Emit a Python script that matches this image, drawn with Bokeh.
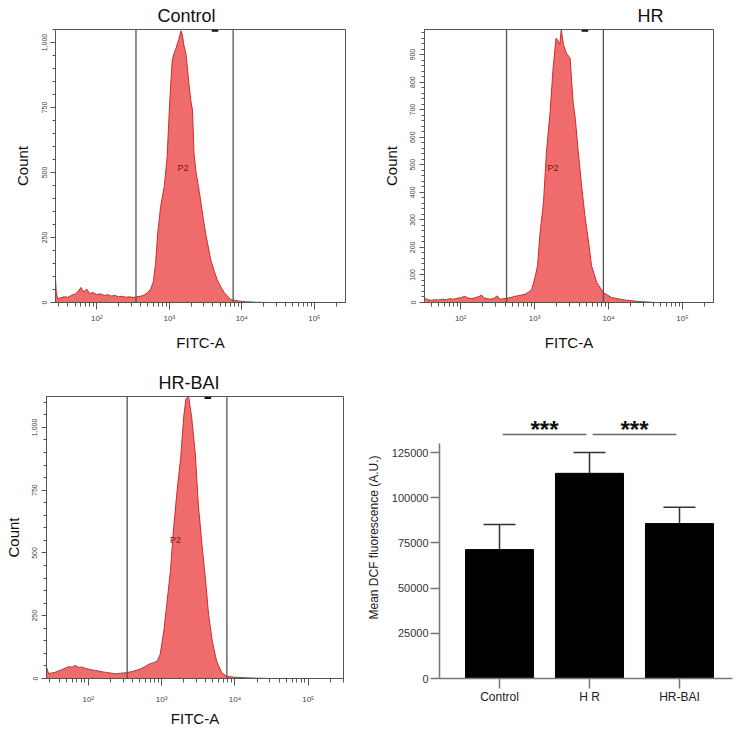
from bokeh.plotting import figure
from bokeh.models import (Range1d, FixedTicker, CustomJSTickFormatter, NumeralTickFormatter,
                          BasicTickFormatter, Span)
from bokeh.layouts import column, row
from bokeh.core.properties import value
from bokeh.embed import file_html
from bokeh.resources import INLINE

FONT = "Liberation Sans"

# ---------------- histogram data (log10 of FITC-A, count) ----------------
control_log = [1.43, 1.44, 1.46, 1.50, 1.55, 1.60, 1.65, 1.70, 1.75, 1.78, 1.82, 1.86, 1.90, 1.95,
               2.00, 2.05, 2.10, 2.15, 2.20, 2.25, 2.30, 2.35, 2.40, 2.45, 2.50, 2.55, 2.60, 2.65,
               2.70, 2.74, 2.78, 2.81, 2.84, 2.88, 2.93, 2.97, 3.00, 3.02, 3.04, 3.07, 3.09, 3.11,
               3.13, 3.16, 3.18, 3.20, 3.23, 3.27, 3.30, 3.32, 3.34, 3.37, 3.40, 3.43, 3.47, 3.50,
               3.54, 3.57, 3.62, 3.66, 3.71, 3.76, 3.81, 3.85, 3.95, 4.05, 4.20, 4.40]
control_count = [95, 40, 15, 18, 22, 20, 28, 32, 45, 58, 40, 52, 35, 38,
                 30, 34, 27, 30, 25, 27, 22, 24, 20, 22, 19, 22, 24, 28,
                 38, 50, 80, 150, 267, 369, 446, 561, 740, 842, 931, 963, 975, 995,
                 1010, 1045, 1030, 990, 957, 842, 770, 740, 574, 497, 450, 395, 320, 267,
                 210, 165, 120, 88, 60, 37, 22, 11, 6, 3, 1, 0]

hr_log = [1.52, 1.56, 1.60, 1.65, 1.70, 1.75, 1.80, 1.85, 1.90, 1.95, 2.00, 2.06, 2.10, 2.15,
          2.20, 2.25, 2.28, 2.32, 2.36, 2.40, 2.45, 2.49, 2.53, 2.58, 2.62, 2.67, 2.73, 2.80,
          2.87, 2.92, 2.96, 3.00, 3.04, 3.07, 3.12, 3.16, 3.21, 3.25, 3.29, 3.32, 3.34, 3.36,
          3.39, 3.43, 3.48, 3.52, 3.55, 3.59, 3.64, 3.68, 3.73, 3.77, 3.84, 3.93, 4.04, 4.22,
          4.40, 4.63]
hr_count = [15, 10, 8, 10, 9, 12, 10, 14, 12, 15, 18, 22, 16, 14,
            18, 22, 27, 16, 14, 12, 15, 24, 12, 14, 15, 18, 22, 26,
            30, 38, 48, 85, 134, 243, 365, 547, 693, 851, 960, 948, 936, 990,
            936, 905, 887, 729, 668, 547, 413, 316, 219, 134, 73, 36, 18, 9,
            4, 0]

hrbai_log = [1.41, 1.43, 1.46, 1.50, 1.55, 1.59, 1.64, 1.69, 1.73, 1.78, 1.82, 1.87, 1.91, 1.96,
             2.00, 2.05, 2.10, 2.14, 2.20, 2.25, 2.30, 2.37, 2.44, 2.52, 2.60, 2.69, 2.76, 2.82,
             2.88, 2.94, 2.98, 3.03, 3.07, 3.12, 3.16, 3.21, 3.26, 3.30, 3.33, 3.35, 3.37, 3.41,
             3.46, 3.50, 3.55, 3.60, 3.64, 3.69, 3.75, 3.82, 3.89, 4.00, 4.15, 4.32, 4.50]
hrbai_count = [98, 45, 19, 22, 25, 30, 35, 42, 47, 45, 52, 44, 46, 40,
               38, 34, 32, 30, 26, 24, 22, 19, 21, 23, 28, 36, 45, 56,
               62, 69, 96, 189, 295, 428, 587, 746, 879, 1039, 1112, 1120, 1118, 1039,
               892, 693, 534, 388, 255, 149, 69, 23, 8, 5, 3, 1, 0]

# gates (log10), gate-label marker (log10), P2 label position (log10, count)
control_gate = [2.54, 3.88]
hr_gate = [2.62, 3.93]
hrbai_gate = [2.53, 3.89]
control_mark = 3.63
hr_mark = 3.68
hrbai_mark = 3.63
control_p2 = (3.19, 517)
hr_p2 = (3.25, 490)
hrbai_p2 = (3.19, 550)

x_decades = [2, 3, 4, 5]

# ---------------- bar chart data ----------------
groups = ["Control", "H R", "HR-BAI"]
means = [71300, 113500, 85700]
errors = [13900, 11500, 9100]
sig_pairs = [(1, 2), (2, 3)]
sig_text = ["***", "***"]
bar_yticks = [0, 25000, 50000, 75000, 100000, 125000]

FILL = "#F06B6B"
EDGE = "#D22A2C"
GRAY = "#555555"

sup_js = """
const e = Math.round(Math.log10(tick));
const sup = {1:'\u00b9', 2:'\u00b2', 3:'\u00b3', 4:'\u2074', 5:'\u2075', 6:'\u2076'};
return '10' + sup[e];
"""


def flow_panel(title, title_offset, logs, counts, xr, ymax, ymajor, ystep_minor,
               gates, mark, p2, width, height, bl, br, bt, bb, title_standoff, xlab_standoff):
    p = figure(width=width, height=height, x_axis_type="log",
               x_range=Range1d(10 ** xr[0], 10 ** xr[1]), y_range=Range1d(0, ymax),
               output_backend="svg", toolbar_location=None,
               min_border_left=bl, min_border_right=br, min_border_top=bt, min_border_bottom=bb,
               background_fill_color="white", border_fill_color="white")
    p.title.text = title
    p.title.align = "left"
    p.title.offset = title_offset
    p.title.standoff = title_standoff
    p.title.text_font = FONT
    p.title.text_font_size = "18px"
    p.title.text_font_style = "normal"
    p.title.text_color = "#111111"
    p.outline_line_color = GRAY
    p.outline_line_width = 1
    p.grid.visible = False

    xs = [10 ** v for v in logs]
    p.varea(x=xs, y1=[0] * len(xs), y2=counts, fill_color=FILL, fill_alpha=1.0)
    p.line(x=xs, y=counts, line_color=EDGE, line_width=1)

    for g in gates:
        p.add_layout(Span(location=10 ** g, dimension="height", line_color=GRAY, line_width=1.3))
    p.segment(x0=[10 ** (mark - 0.045)], x1=[10 ** (mark + 0.045)],
              y0=[ymax * 0.995], y1=[ymax * 0.995], line_color="#111111", line_width=2)
    p.text(x=[10 ** p2[0]], y=[p2[1]], text=["P2"], text_font=value(FONT),
           text_font_size="9px", text_color="#7a1515", text_align="center",
           text_baseline="middle")

    minor_x = [m * 10 ** d for d in [1, 2, 3, 4, 5] for m in range(2, 10)]
    minor_x = [v for v in minor_x if 10 ** xr[0] <= v <= 10 ** xr[1]]
    p.xaxis.ticker = FixedTicker(ticks=[10 ** d for d in x_decades], minor_ticks=minor_x)
    p.xaxis.formatter = CustomJSTickFormatter(code=sup_js)
    p.xaxis.axis_label = "FITC-A"
    p.xaxis.axis_label_text_font = FONT
    p.xaxis.axis_label_text_font_size = "15px"
    p.xaxis.axis_label_text_font_style = "normal"
    p.xaxis.axis_label_text_color = "#111111"
    p.xaxis.axis_label_standoff = 8 - (xlab_standoff - 4)
    p.xaxis.major_label_text_font = FONT
    p.xaxis.major_label_text_font_size = "8px"
    p.xaxis.major_label_text_color = "#444444"
    p.xaxis.major_label_standoff = xlab_standoff
    p.xaxis.major_tick_out = 7
    p.xaxis.major_tick_in = 0
    p.xaxis.minor_tick_out = 4
    p.xaxis.minor_tick_in = 0
    p.xaxis.axis_line_color = GRAY
    p.xaxis.major_tick_line_color = GRAY
    p.xaxis.minor_tick_line_color = GRAY

    minor_y = list(range(0, int(ymax) + 1, ystep_minor))
    p.yaxis.ticker = FixedTicker(ticks=ymajor, minor_ticks=minor_y)
    p.yaxis.formatter = NumeralTickFormatter(format="0,0")
    p.yaxis.major_label_orientation = "vertical"
    p.yaxis.axis_label = "Count"
    p.yaxis.axis_label_text_font = FONT
    p.yaxis.axis_label_text_font_size = "15px"
    p.yaxis.axis_label_text_font_style = "normal"
    p.yaxis.axis_label_text_color = "#111111"
    p.yaxis.axis_label_standoff = 8
    p.yaxis.major_label_text_font = FONT
    p.yaxis.major_label_text_font_size = "7px"
    p.yaxis.major_label_text_color = "#444444"
    p.yaxis.major_label_standoff = 4
    p.yaxis.major_tick_out = 5
    p.yaxis.major_tick_in = 0
    p.yaxis.minor_tick_out = 3
    p.yaxis.minor_tick_in = 0
    p.yaxis.axis_line_color = GRAY
    p.yaxis.major_tick_line_color = GRAY
    p.yaxis.minor_tick_line_color = GRAY
    return p


p1 = flow_panel("Control", 102, control_log, control_count, (1.43, 5.43), 1050,
                [0, 250, 500, 750, 1000], 50, control_gate, control_mark, control_p2,
                370, 360, 55, 25, 29, 58, 7, 4)
p2 = flow_panel("HR", 213, hr_log, hr_count, (1.51, 5.42), 991,
                list(range(0, 1000, 100)), 20, hr_gate, hr_mark, hr_p2,
                372, 360, 54, 29, 29, 58, 7, 4)
p3 = flow_panel("HR-BAI", 112, hrbai_log, hrbai_count, (1.43, 5.48), 1123,
                [0, 250, 500, 750, 1000], 50, hrbai_gate, hrbai_mark, hrbai_p2,
                360, 372, 46, 17, 36, 54, 7, 9)

# ---------------- bar chart ----------------
xpos = [1, 2, 3]
p4 = figure(width=382, height=372, x_range=Range1d(0.333, 3.589), y_range=Range1d(0, 156000),
            output_backend="svg", toolbar_location=None,
            min_border_left=79, min_border_right=10, min_border_top=36, min_border_bottom=54,
            background_fill_color="white", border_fill_color="white")
p4.outline_line_color = None
p4.grid.visible = False
p4.vbar(x=xpos, top=means, width=0.756, fill_color="black", line_color="black")
err_top = [m + e for m, e in zip(means, errors)]
p4.segment(x0=xpos, y0=means, x1=xpos, y1=err_top, line_color="#333333", line_width=1.5)
p4.segment(x0=[x - 0.178 for x in xpos], y0=err_top, x1=[x + 0.178 for x in xpos], y1=err_top,
           line_color="#333333", line_width=1.5)
sig_y = 135000
p4.segment(x0=[a + 0.035 for a, b in sig_pairs], x1=[b - 0.035 for a, b in sig_pairs],
           y0=[sig_y] * len(sig_pairs), y1=[sig_y] * len(sig_pairs),
           line_color="#666666", line_width=1.5)
p4.text(x=[(a + b) / 2 for a, b in sig_pairs], y=[sig_y + 2500] * len(sig_pairs), text=sig_text,
        text_font=value(FONT), text_font_size="24px", text_font_style="bold",
        text_color="#111111", text_align="center", text_baseline="alphabetic")

p4.xaxis.ticker = FixedTicker(ticks=xpos)
p4.xaxis.major_label_overrides = {x: g for x, g in zip(xpos, groups)}
p4.xaxis.major_label_text_font = FONT
p4.xaxis.major_label_text_font_size = "12px"
p4.xaxis.major_label_text_color = "#222222"
p4.xaxis.major_label_standoff = 1
p4.xaxis.major_tick_out = 10
p4.xaxis.major_tick_in = 0
p4.xaxis.minor_tick_line_color = None
p4.xaxis.axis_line_color = "#777777"
p4.xaxis.axis_line_width = 1.5
p4.xaxis.major_tick_line_color = "#777777"
p4.xaxis.major_tick_line_width = 1.5

p4.yaxis.ticker = FixedTicker(ticks=bar_yticks)
p4.yaxis.bounds = (0, 130000)
p4.yaxis.formatter = BasicTickFormatter(use_scientific=False)
p4.yaxis.axis_label = "Mean DCF fluorescence (A.U.)"
p4.yaxis.axis_label_text_font = FONT
p4.yaxis.axis_label_text_font_size = "12px"
p4.yaxis.axis_label_text_font_style = "normal"
p4.yaxis.axis_label_text_color = "#222222"
p4.yaxis.axis_label_standoff = 8
p4.yaxis.major_label_text_font = FONT
p4.yaxis.major_label_text_font_size = "11px"
p4.yaxis.major_label_text_color = "#333333"
p4.yaxis.major_label_standoff = 2
p4.yaxis.major_tick_out = 9
p4.yaxis.major_tick_in = 0
p4.yaxis.minor_tick_line_color = None
p4.yaxis.axis_line_color = "#777777"
p4.yaxis.axis_line_width = 1.5
p4.yaxis.major_tick_line_color = "#777777"
p4.yaxis.major_tick_line_width = 1.5

layout = column(row(p1, p2), row(p3, p4))
open("out.html", "w").write(file_html(layout, INLINE))
